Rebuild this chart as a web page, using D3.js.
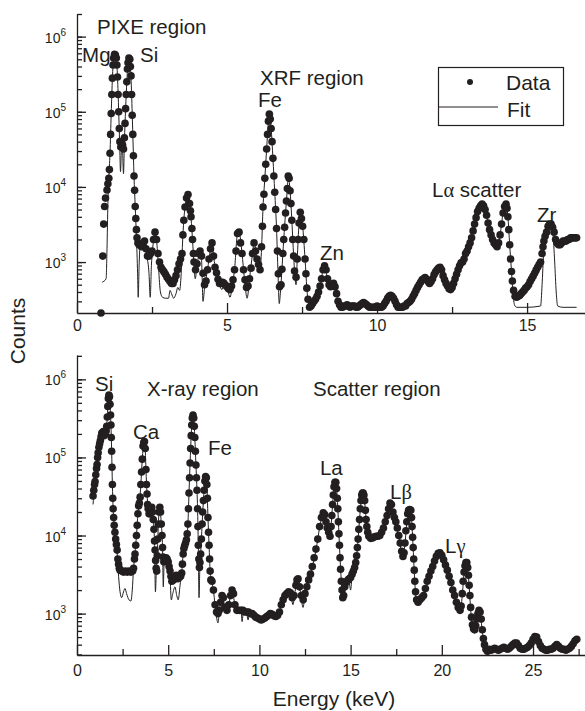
<!DOCTYPE html>
<html>
<head>
<meta charset="utf-8">
<script src="https://cdn.jsdelivr.net/npm/d3@7"></script>
<style>
  body { margin: 0; background: #fff; }
  svg text { font-family: "Liberation Sans", Arial, Helvetica, sans-serif; fill: #231f20; }
</style>
</head>
<body>
<svg id="chart" width="585" height="711"></svg>
<script>
// [energy keV, counts]
const topData = [
  [0.80,210],[0.86,1200],[0.89,3200],[0.92,5500],[0.95,7100],[1.00,9100],[1.03,11000],[1.06,13000],[1.08,17000],[1.10,28000],
  [1.12,50000],[1.14,95000],[1.16,170000],[1.18,280000],[1.20,420000],[1.22,520000],[1.25,580000],[1.28,570000],[1.31,520000],[1.33,420000],
  [1.35,290000],[1.37,170000],[1.39,100000],[1.41,60000],[1.43,40000],[1.46,34000],[1.49,38000],[1.52,36000],[1.55,32000],[1.58,45000],
  [1.60,70000],[1.62,110000],[1.64,170000],[1.66,250000],[1.68,370000],[1.70,450000],[1.73,520000],[1.76,500000],[1.78,400000],[1.80,300000],
  [1.82,170000],[1.84,90000],[1.86,50000],[1.88,26000],[1.90,14000],[1.92,9000],[1.94,5500],[1.96,3800],[1.98,2700],[2.00,2100],
  [2.03,1800],[2.07,1700],[2.10,1700],[2.15,1600],[2.20,1700],[2.25,1900],[2.30,1500],[2.35,1200],[2.40,1200],[2.45,1300],
  [2.50,1400],[2.55,2000],[2.60,2500],[2.65,2000],[2.70,1300],[2.75,1000],[2.80,850],[2.85,790],[2.90,740],[2.95,690],
  [3.00,630],[3.05,590],[3.10,550],[3.15,520],[3.20,520],[3.25,580],[3.30,660],[3.35,790],[3.40,950],[3.45,1100],
  [3.50,1300],[3.53,2300],[3.56,3600],[3.60,5400],[3.65,7100],[3.70,7900],[3.75,6000],[3.78,4800],[3.80,4000],[3.83,2800],
  [3.85,2000],[3.88,1300],[3.90,1000],[3.95,790],[4.00,950],[4.05,1300],[4.10,1400],[4.15,1200],[4.20,710],[4.25,500],
  [4.30,560],[4.35,790],[4.40,1100],[4.45,1500],[4.50,1800],[4.55,1200],[4.60,850],[4.65,720],[4.70,590],[4.75,520],
  [4.80,520],[4.85,540],[4.90,520],[4.95,490],[5.00,470],[5.05,440],[5.10,430],[5.15,480],[5.20,580],[5.25,790],
  [5.30,1400],[5.35,2400],[5.40,2500],[5.45,1800],[5.50,1300],[5.55,790],[5.60,580],[5.65,460],[5.70,480],[5.75,600],
  [5.80,830],[5.85,1300],[5.90,1800],[5.95,1400],[6.00,1100],[6.05,930],[6.10,790],[6.15,1600],[6.18,3000],[6.20,5400],
  [6.23,8000],[6.26,13000],[6.29,20000],[6.32,32000],[6.35,50000],[6.38,75000],[6.41,93000],[6.44,80000],[6.47,60000],[6.50,40000],
  [6.53,24000],[6.56,14000],[6.59,8500],[6.62,5000],[6.65,2800],[6.68,1400],[6.71,700],[6.75,470],[6.80,500],[6.83,800],
  [6.86,1300],[6.89,2000],[6.92,2900],[6.95,4500],[6.98,6500],[7.01,9500],[7.04,14000],[7.07,13000],[7.10,8900],[7.13,6000],
  [7.16,3600],[7.19,2000],[7.22,1200],[7.25,760],[7.30,630],[7.34,1100],[7.37,2000],[7.40,3300],[7.44,4600],[7.48,3800],
  [7.52,3000],[7.56,2000],[7.60,1100],[7.63,700],[7.66,450],[7.70,320],[7.75,250],[7.80,260],[7.85,280],[7.90,300],
  [7.95,320],[8.00,350],[8.05,400],[8.10,480],[8.15,600],[8.20,790],[8.25,890],[8.30,790],[8.35,600],[8.40,500],
  [8.45,470],[8.50,500],[8.55,520],[8.60,470],[8.65,380],[8.70,300],[8.75,270],[8.80,250],[8.85,250],[8.90,260],
  [8.95,260],[9.00,270],[9.05,260],[9.10,250],[9.15,260],[9.20,260],[9.25,260],[9.30,250],[9.35,250],[9.40,260],
  [9.45,270],[9.50,280],[9.55,290],[9.60,280],[9.65,270],[9.70,260],[9.75,250],[9.80,250],[9.85,250],[9.90,250],
  [9.95,250],[10.00,260],[10.05,250],[10.10,250],[10.15,250],[10.20,260],[10.25,280],[10.30,300],[10.35,330],[10.40,350],
  [10.45,360],[10.50,350],[10.55,330],[10.60,300],[10.65,270],[10.70,250],[10.75,250],[10.80,250],[10.85,250],[10.90,260],
  [10.95,260],[11.00,280],[11.05,290],[11.10,300],[11.15,320],[11.20,350],[11.25,380],[11.30,420],[11.35,460],[11.40,500],
  [11.45,540],[11.50,580],[11.55,600],[11.60,620],[11.65,590],[11.70,550],[11.75,520],[11.80,550],[11.85,600],[11.90,680],
  [11.95,740],[12.00,790],[12.05,830],[12.10,850],[12.15,790],[12.20,660],[12.25,580],[12.30,520],[12.35,480],[12.40,440],
  [12.45,430],[12.50,460],[12.55,520],[12.60,600],[12.65,690],[12.70,790],[12.75,890],[12.80,980],[12.85,1000],[12.90,1100],
  [12.95,1300],[13.00,1400],[13.05,1600],[13.10,1800],[13.15,2100],[13.20,2600],[13.25,3200],[13.30,3900],[13.35,4700],[13.40,5200],
  [13.45,5600],[13.50,5900],[13.55,5600],[13.60,5000],[13.65,4200],[13.70,3300],[13.75,2700],[13.80,2300],[13.85,2000],[13.90,1800],
  [13.95,1700],[14.00,1600],[14.05,1800],[14.10,2300],[14.15,3200],[14.20,4500],[14.25,5500],[14.30,5900],[14.33,5200],[14.36,4000],
  [14.39,2700],[14.42,1700],[14.45,1100],[14.48,750],[14.51,560],[14.55,420],[14.60,350],[14.65,340],[14.70,350],[14.75,360],
  [14.80,380],[14.85,400],[14.90,420],[14.95,450],[15.00,470],[15.05,500],[15.10,550],[15.15,600],[15.20,650],[15.25,710],
  [15.30,780],[15.35,850],[15.40,930],[15.45,1000],[15.50,1300],[15.53,1600],[15.56,1900],[15.60,2200],[15.65,2500],[15.70,3000],
  [15.75,3200],[15.80,3200],[15.85,2900],[15.90,2500],[15.95,2000],[16.00,1800],[16.05,1700],[16.10,1700],[16.15,1800],[16.20,1900],
  [16.25,1900],[16.30,1900],[16.35,2000],[16.40,2000],[16.45,2100],[16.50,2100],[16.55,2100],[16.60,2100],[16.65,2100]
];

const topFit = [
  [0.84,540],[0.97,600],[1.00,1500],[1.03,6000],[1.06,13000],[1.10,28000],[1.14,95000],[1.18,280000],[1.22,520000],[1.25,580000],
  [1.31,520000],[1.35,290000],[1.39,100000],[1.42,40000],[1.45,16000],[1.48,30000],[1.51,34000],[1.55,15000],[1.58,40000],[1.62,110000],
  [1.66,250000],[1.70,450000],[1.73,520000],[1.78,400000],[1.82,170000],[1.86,50000],[1.90,14000],[1.94,5500],[1.98,2200],[2.02,700],
  [2.04,340],[2.07,900],[2.10,1600],[2.20,1700],[2.27,1800],[2.33,1200],[2.40,700],[2.44,340],[2.48,900],[2.55,1900],
  [2.60,2400],[2.66,1800],[2.72,800],[2.78,400],[2.85,340],[2.95,330],[3.05,330],[3.10,420],[3.15,380],[3.22,330],
  [3.30,380],[3.36,460],[3.42,420],[3.48,800],[3.53,2300],[3.60,5400],[3.70,7900],[3.78,4800],[3.85,2000],[3.90,900],
  [3.94,600],[4.00,900],[4.10,1400],[4.15,1100],[4.20,300],[4.25,450],[4.35,790],[4.45,1500],[4.50,1800],[4.55,1200],
  [4.65,720],[4.75,500],[4.83,430],[4.90,500],[5.00,460],[5.10,340],[5.18,500],[5.25,790],[5.35,2400],[5.40,2500],
  [5.50,1300],[5.58,600],[5.67,330],[5.75,600],[5.85,1300],[5.90,1800],[6.00,1100],[6.10,790],[6.15,1500],[6.20,5400],
  [6.26,13000],[6.32,32000],[6.38,75000],[6.41,93000],[6.47,60000],[6.53,24000],[6.59,8500],[6.65,2800],[6.70,700],[6.74,280],
  [6.78,400],[6.83,800],[6.89,2000],[6.95,4500],[7.01,9500],[7.04,14000],[7.10,8900],[7.16,3600],[7.22,1200],[7.27,600],
  [7.30,500],[7.34,1100],[7.40,3300],[7.44,4600],[7.52,3000],[7.60,1100],[7.66,450],[7.72,270],[7.80,250],[8.00,340],
  [8.10,470],[8.20,780],[8.25,880],[8.35,600],[8.45,460],[8.55,510],[8.65,370],[8.75,260],[9.00,260],[9.50,270],
  [9.60,280],[10.00,250],[10.30,290],[10.45,350],[10.60,290],[10.80,245],[11.00,270],[11.20,340],[11.40,490],[11.60,610],
  [11.75,510],[11.90,670],[12.10,840],[12.30,510],[12.45,420],[12.60,590],[12.80,970],[13.00,1400],[13.20,2600],[13.40,5200],
  [13.50,5900],[13.60,5000],[13.75,2700],[13.90,1800],[14.00,1600],[14.10,2300],[14.20,4500],[14.30,5900],[14.36,4000],[14.42,1700],
  [14.48,750],[14.53,380],[14.58,270],[14.65,250],[15.00,250],[15.45,260],[15.50,500],[15.55,1300],[15.62,2300],[15.70,3000],
  [15.78,3200],[15.86,2400],[15.92,1000],[15.97,400],[16.02,260],[16.20,250],[16.65,250]
];

const bottomData = [
  [0.88,32000],[0.92,38000],[0.96,45000],[0.99,49000],[1.03,60000],[1.07,72000],[1.10,81000],[1.13,100000],[1.16,115000],[1.20,135000],
  [1.24,150000],[1.28,165000],[1.32,185000],[1.36,205000],[1.40,200000],[1.44,215000],[1.48,190000],[1.52,210000],[1.56,200000],[1.60,220000],
  [1.63,250000],[1.66,330000],[1.69,450000],[1.72,570000],[1.75,630000],[1.78,600000],[1.81,480000],[1.84,350000],[1.86,260000],[1.88,180000],
  [1.90,120000],[1.92,75000],[1.94,45000],[1.96,30000],[1.98,22000],[2.01,17000],[2.04,13500],[2.08,11000],[2.12,9000],[2.16,7700],
  [2.20,6500],[2.24,5000],[2.28,4300],[2.32,3800],[2.36,3600],[2.45,3500],[2.55,3400],[2.65,3500],[2.75,3400],[2.85,3500],
  [2.95,3400],[3.05,3500],[3.10,3800],[3.15,5000],[3.18,5800],[3.22,7500],[3.26,10000],[3.30,13500],[3.34,19000],[3.38,24000],
  [3.42,26000],[3.46,31000],[3.50,45000],[3.54,65000],[3.58,95000],[3.62,140000],[3.66,155000],[3.70,160000],[3.74,130000],[3.78,70000],
  [3.81,45000],[3.84,34000],[3.87,25000],[3.90,22000],[3.95,19000],[4.00,19000],[4.05,21000],[4.10,23000],[4.14,20000],[4.18,16000],
  [4.22,12000],[4.25,8500],[4.28,6500],[4.31,4800],[4.34,3800],[4.37,3500],[4.40,5500],[4.43,9000],[4.46,14000],[4.50,20000],
  [4.54,23000],[4.58,20000],[4.62,14000],[4.66,10000],[4.69,7000],[4.72,5300],[4.76,4600],[4.82,4700],[4.88,5200],[4.94,5000],
  [5.00,4600],[5.05,4000],[5.10,3500],[5.15,3000],[5.20,2600],[5.28,2700],[5.36,2900],[5.44,3100],[5.52,2800],[5.60,2900],
  [5.68,3000],[5.74,3300],[5.78,4300],[5.82,5800],[5.86,6800],[5.90,7400],[5.95,8000],[6.00,8800],[6.04,10500],[6.08,14000],
  [6.11,22000],[6.14,35000],[6.17,55000],[6.20,85000],[6.23,130000],[6.26,190000],[6.29,260000],[6.32,320000],[6.36,350000],[6.40,320000],
  [6.43,250000],[6.46,180000],[6.49,120000],[6.52,80000],[6.55,55000],[6.58,38000],[6.61,22000],[6.63,13000],[6.65,7500],[6.68,5000],
  [6.71,3900],[6.74,4500],[6.78,5800],[6.82,9000],[6.86,14000],[6.89,20000],[6.93,28000],[6.97,38000],[7.01,50000],[7.05,57000],
  [7.09,55000],[7.12,45000],[7.15,30000],[7.18,17000],[7.21,11000],[7.24,7500],[7.27,5000],[7.30,3500],[7.34,2700],[7.40,2600],
  [7.48,2000],[7.57,1300],[7.65,1050],[7.73,1000],[7.80,1100],[7.87,1400],[7.95,1700],[8.02,1600],[8.10,1200],[8.22,1100],
  [8.32,1300],[8.42,1700],[8.50,2000],[8.58,1800],[8.66,1300],[8.77,1100],[8.90,1100],[9.00,1100],[9.10,1100],[9.20,1050],
  [9.30,1050],[9.40,1050],[9.50,1000],[9.60,1000],[9.70,950],[9.80,900],[9.90,880],[10.00,850],[10.10,830],[10.20,850],
  [10.30,880],[10.40,920],[10.50,950],[10.60,1000],[10.70,980],[10.80,940],[10.90,920],[11.00,950],[11.10,1050],[11.20,1300],
  [11.30,1500],[11.40,1700],[11.50,1800],[11.60,1900],[11.70,1850],[11.80,1600],[11.90,1700],[12.00,2300],[12.06,2700],[12.12,2800],
  [12.20,2200],[12.30,1700],[12.40,1500],[12.50,1800],[12.60,2200],[12.70,2700],[12.80,3200],[12.90,4000],[13.00,5200],[13.10,6700],
  [13.20,9000],[13.30,13000],[13.40,17000],[13.50,19500],[13.58,18500],[13.65,15000],[13.72,12500],[13.80,11000],[13.87,9800],[13.93,13000],
  [13.97,18000],[14.01,25000],[14.05,33000],[14.09,42000],[14.14,48000],[14.19,48000],[14.23,40000],[14.27,30000],[14.30,22000],[14.33,15000],
  [14.36,10500],[14.39,7500],[14.42,5200],[14.45,3700],[14.49,2600],[14.53,2000],[14.57,1600],[14.62,1700],[14.68,2200],[14.74,2500],
  [14.80,2600],[14.86,2700],[14.92,2800],[15.00,2900],[15.08,3200],[15.15,3500],[15.22,3900],[15.28,4500],[15.33,5500],[15.37,7000],
  [15.41,9000],[15.45,12000],[15.49,16000],[15.53,22000],[15.57,28000],[15.61,33000],[15.65,35000],[15.69,35000],[15.73,33000],[15.77,28000],
  [15.81,21000],[15.85,16000],[15.89,13000],[15.94,11000],[16.00,9800],[16.10,9200],[16.20,9300],[16.30,9600],[16.40,9800],[16.50,9800],
  [16.60,10000],[16.70,11000],[16.80,12500],[16.90,15000],[17.00,18000],[17.08,22000],[17.16,26000],[17.24,25000],[17.32,20000],[17.40,17000],
  [17.48,15000],[17.56,12500],[17.64,10000],[17.72,8000],[17.80,6300],[17.87,5400],[17.93,6000],[17.98,8000],[18.03,11500],[18.08,15000],
  [18.13,19000],[18.18,21000],[18.24,21500],[18.30,21000],[18.34,17000],[18.37,13000],[18.40,9500],[18.43,7000],[18.46,5000],[18.49,3600],
  [18.52,2600],[18.56,1900],[18.62,1500],[18.70,1400],[18.80,1500],[18.90,1600],[19.00,1700],[19.10,2100],[19.20,2600],[19.30,3000],
  [19.40,3500],[19.50,4000],[19.60,4700],[19.70,5400],[19.80,5900],[19.90,6000],[20.00,5600],[20.10,4900],[20.20,4200],[20.30,3600],
  [20.40,3000],[20.50,2500],[20.60,2000],[20.70,1700],[20.80,1400],[20.90,1200],[21.00,1100],[21.06,1250],[21.12,1800],[21.17,2600],
  [21.22,3400],[21.27,4100],[21.32,4500],[21.37,4500],[21.42,3900],[21.46,3100],[21.50,2300],[21.54,1700],[21.58,1200],[21.63,900],
  [21.68,720],[21.74,640],[21.80,620],[21.86,700],[21.92,850],[21.98,1000],[22.04,1100],[22.10,1050],[22.16,850],[22.22,620],
  [22.28,480],[22.34,400],[22.42,350],[22.50,330],[22.60,350],[22.70,340],[22.80,350],[22.90,360],[23.00,350],[23.10,340],
  [23.20,350],[23.30,360],[23.40,370],[23.50,360],[23.60,350],[23.70,360],[23.80,380],[23.90,400],[24.00,420],[24.10,420],
  [24.20,390],[24.30,360],[24.40,350],[24.50,350],[24.60,360],[24.70,370],[24.80,390],[24.90,420],[25.00,470],[25.10,510],
  [25.20,500],[25.30,440],[25.40,390],[25.50,360],[25.60,350],[25.70,340],[25.80,340],[25.90,350],[26.00,350],[26.10,360],
  [26.20,380],[26.30,400],[26.40,380],[26.50,360],[26.60,350],[26.70,350],[26.80,340],[26.90,350],[27.00,360],[27.10,380],
  [27.20,410],[27.30,450],[27.40,470]
];

const bottomFit = [
  [0.88,25000],[0.95,40000],[1.03,60000],[1.10,81000],[1.20,135000],[1.30,175000],[1.40,200000],[1.50,200000],[1.60,220000],[1.66,330000],
  [1.72,570000],[1.75,630000],[1.81,480000],[1.86,260000],[1.90,120000],[1.94,45000],[1.98,22000],[2.04,13500],[2.12,9000],[2.20,6000],
  [2.28,3000],[2.36,1900],[2.45,1600],[2.55,1900],[2.63,2100],[2.72,1800],[2.85,1500],[2.95,1450],[3.03,2000],[3.10,3800],
  [3.18,5800],[3.26,10000],[3.34,19000],[3.42,26000],[3.50,45000],[3.58,95000],[3.66,155000],[3.70,160000],[3.74,130000],[3.78,70000],
  [3.84,34000],[3.90,22000],[4.00,19000],[4.10,23000],[4.18,16000],[4.25,8000],[4.30,1900],[4.35,3600],[4.40,5500],[4.46,14000],
  [4.54,23000],[4.62,14000],[4.69,7000],[4.73,2200],[4.78,4600],[4.88,5200],[5.00,4500],[5.10,3000],[5.17,1500],[5.25,1800],
  [5.37,2200],[5.47,1700],[5.55,1500],[5.65,2300],[5.74,3300],[5.82,5800],[5.90,7400],[6.00,8800],[6.08,14000],[6.14,35000],
  [6.20,85000],[6.26,190000],[6.32,320000],[6.36,350000],[6.43,250000],[6.49,120000],[6.55,55000],[6.61,22000],[6.65,7500],[6.69,1600],
  [6.73,3500],[6.78,5800],[6.86,14000],[6.93,28000],[7.01,50000],[7.05,57000],[7.12,45000],[7.18,17000],[7.24,7500],[7.30,3500],
  [7.40,2500],[7.50,1800],[7.60,1100],[7.73,760],[7.80,1050],[7.95,1700],[8.10,1200],[8.22,1050],[8.50,2000],[8.66,1300],
  [8.80,1100],[9.00,1050],[9.05,790],[9.12,1050],[9.30,1000],[9.38,830],[9.45,1000],[9.70,930],[10.00,840],[10.30,870],
  [10.60,980],[10.90,910],[11.20,1250],[11.50,1750],[11.70,1800],[11.84,1300],[11.95,1900],[12.10,2700],[12.25,1900],[12.39,1200],
  [12.50,1700],[12.70,2600],[12.90,3900],[13.10,6500],[13.30,12500],[13.50,19000],[13.65,15000],[13.87,9600],[13.97,18000],[14.05,33000],
  [14.14,48000],[14.23,40000],[14.30,22000],[14.36,10500],[14.42,5200],[14.49,2600],[14.57,1500],[14.70,2200],[14.90,2700],[15.00,2000],
  [15.08,3000],[15.22,3800],[15.33,5400],[15.41,9000],[15.49,16000],[15.57,28000],[15.65,35000],[15.73,33000],[15.81,21000],[15.89,13000],
  [16.00,9600],[16.30,9400],[16.60,9800],[16.90,14500],[17.16,25500],[17.40,16500],[17.64,9800],[17.87,5200],[17.98,7800],[18.08,14500],
  [18.24,21000],[18.34,16500],[18.43,6800],[18.52,2500],[18.62,1400],[18.75,1300],[19.00,1650],[19.30,2900],[19.60,4600],[19.90,5900],
  [20.20,4100],[20.50,2400],[20.80,1350],[21.00,1050],[21.12,1700],[21.22,3300],[21.32,4400],[21.42,3800],[21.50,2200],[21.58,1150],
  [21.68,650],[21.80,560],[21.98,950],[22.10,1000],[22.22,580],[22.34,370],[22.50,320],[23.00,330],[24.00,390],[24.50,330],
  [25.10,490],[25.50,340],[26.30,380],[26.80,320],[27.40,450]
];

const topXTicks = [0, 5, 10, 15];
const bottomXTicks = [0, 5, 10, 15, 20, 25];

// annotations, anchored in data units (energy, counts)
const topNotes = [
  {text: "PIXE region", e: 0.67, c: 1.08e6},
  {text: "Mg", e: 0.17, c: 4.6e5},
  {text: "Si", e: 2.1, c: 4.6e5},
  {text: "XRF region", e: 6.1, c: 2.3e5},
  {text: "Fe", e: 6.03, c: 1.17e5},
  {text: "Zn", e: 8.1, c: 1070},
  {text: "Lα scatter", e: 11.83, c: 7400},
  {text: "Zr", e: 15.33, c: 3400}
];
const bottomNotes = [
  {text: "Si", e: 0.99, c: 7.1e5},
  {text: "X-ray region", e: 3.84, c: 6.2e5},
  {text: "Ca", e: 3.07, c: 1.7e5},
  {text: "Fe", e: 7.18, c: 1.08e5},
  {text: "Scatter region", e: 12.94, c: 6.2e5},
  {text: "La", e: 13.32, c: 6.0e4},
  {text: "Lβ", e: 17.16, c: 2.9e4},
  {text: "Lγ", e: 20.18, c: 6.0e3}
];

const ink = "#231f20";
const svg = d3.select("#chart");

const panels = [
  {data: topData, fit: topFit, xMax: 16.93, yMin: 210, yMax: 2.0e6, top: 14, bottom: 313, xTicks: topXTicks, notes: topNotes, labelPad: 7},
  {data: bottomData, fit: bottomFit, xMax: 27.85, yMin: 295, yMax: 2.05e6, top: 355, bottom: 655, xTicks: bottomXTicks, notes: bottomNotes, labelPad: 10}
];

const left = 77, right = 585;

panels.forEach(p => drawPanel(p));

function drawPanel(p)
{
    const x = d3.scaleLinear().domain([0, p.xMax]).range([left, right]);
    const y = d3.scaleLog().domain([p.yMin, p.yMax]).range([p.bottom, p.top]);
    const g = svg.append("g");

    // fit line under the points
    const line = d3.line()
        .x(d => x(d[0]))
        .y(d => y(d[1]))
        .curve(d3.curveMonotoneX);

    g.append("path")
        .datum(p.fit)
        .attr("d", line)
        .attr("fill", "none")
        .attr("stroke", ink)
        .attr("stroke-width", 1);

    g.selectAll("circle")
        .data(p.data)
        .join("circle")
        .attr("cx", d => x(d[0]))
        .attr("cy", d => y(d[1]))
        .attr("r", 3.8)
        .attr("fill", ink);

    // y axis: minor ticks, then decades
    const yTicks = y.ticks();
    const decades = yTicks.filter(v => Math.abs(Math.log10(v) - Math.round(Math.log10(v))) < 1e-9);

    g.append("g")
        .attr("transform", `translate(${left},0)`)
        .call(d3.axisLeft(y).tickValues(yTicks).tickSizeInner(-5).tickSizeOuter(0).tickFormat(""))
        .call(a => a.select(".domain").remove());

    g.append("g")
        .attr("transform", `translate(${left},0)`)
        .call(d3.axisLeft(y).tickValues(decades).tickSizeInner(-9).tickSizeOuter(0).tickFormat(""));

    decades.forEach(v => {
        const t = g.append("text")
            .attr("x", left - 11)
            .attr("y", y(v) + 6)
            .attr("text-anchor", "end")
            .attr("font-size", 14);
        t.append("tspan").text("10");
        t.append("tspan").text(Math.round(Math.log10(v))).attr("font-size", 10).attr("dy", -7);
    });

    // x axis
    const minor = d3.range(2.5, p.xMax, 5);

    g.append("g")
        .attr("transform", `translate(0,${p.bottom})`)
        .call(d3.axisBottom(x).tickValues(minor).tickSizeInner(-6).tickSizeOuter(0).tickFormat(""))
        .call(a => a.select(".domain").remove());

    g.append("g")
        .attr("transform", `translate(0,${p.bottom})`)
        .call(d3.axisBottom(x).tickValues(p.xTicks).tickSizeInner(-10).tickSizeOuter(0).tickPadding(p.labelPad))
        .attr("font-size", 16)
        .attr("font-family", null);

    g.selectAll(".domain, .tick line").attr("stroke", ink).attr("stroke-width", 1.3);
    g.selectAll(".tick text").attr("fill", ink);

    p.notes.forEach(n => addNote(g, x(n.e), y(n.c), n.text));
}

function addNote(g, px, py, str)
{
    const t = g.append("text").attr("x", px).attr("y", py).attr("font-size", 20.5);
    str.split(/([\u03b1-\u03c9])/).filter(s => s).forEach(s => {
        const greek = /[\u03b1-\u03c9]/.test(s);
        t.append("tspan").text(s)
            .attr("font-family", greek ? "'Liberation Serif', serif" : null);
    });
}

// legend
const legend = svg.append("g");
legend.append("rect")
    .attr("x", 438.5).attr("y", 67.5).attr("width", 125).attr("height", 58)
    .attr("fill", "#fff").attr("stroke", ink).attr("stroke-width", 1.2);
legend.append("circle").attr("cx", 470).attr("cy", 82).attr("r", 3).attr("fill", ink);
legend.append("text").attr("x", 506).attr("y", 90).attr("font-size", 21).text("Data");
legend.append("line")
    .attr("x1", 439).attr("x2", 498).attr("y1", 107).attr("y2", 107)
    .attr("stroke", ink).attr("stroke-width", 1);
legend.append("text").attr("x", 507).attr("y", 117).attr("font-size", 21).text("Fit");

// axis titles
svg.append("text")
    .attr("transform", "translate(25,331) rotate(-90)")
    .attr("text-anchor", "middle")
    .attr("font-size", 21)
    .text("Counts");

svg.append("text")
    .attr("x", 334).attr("y", 706)
    .attr("text-anchor", "middle")
    .attr("font-size", 21)
    .text("Energy (keV)");
</script>
</body>
</html>
